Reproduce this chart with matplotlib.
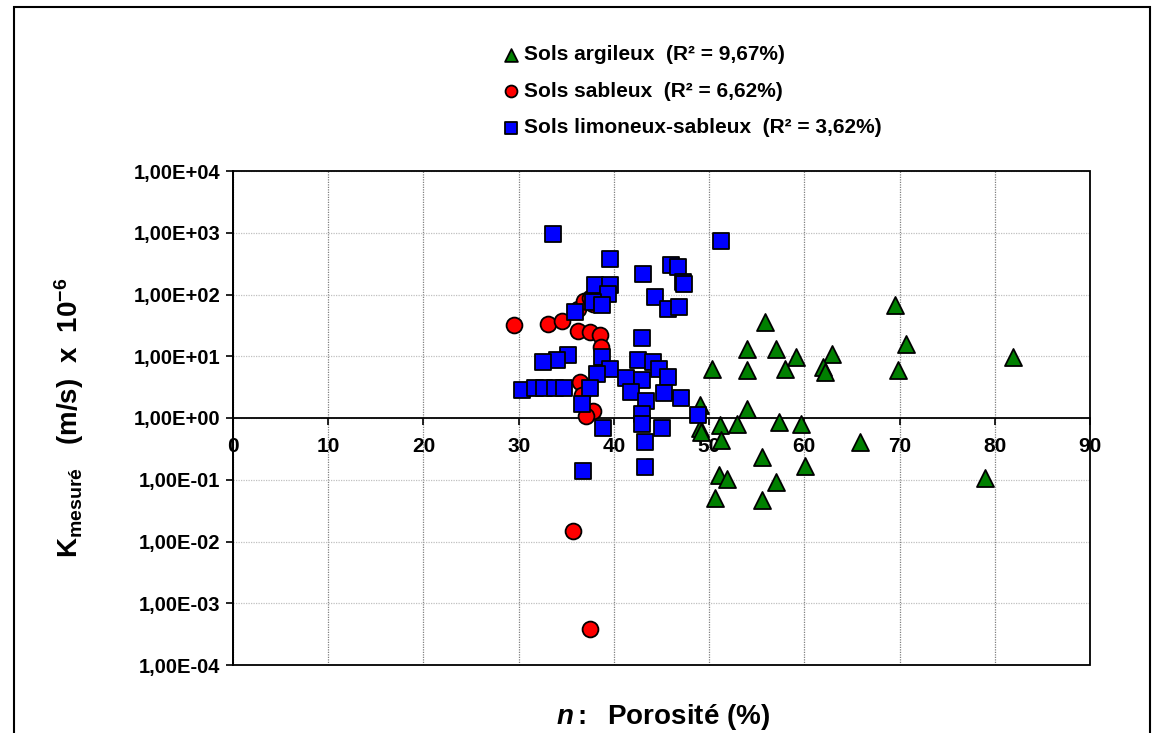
import numpy as np
import matplotlib.pyplot as plt
from matplotlib.ticker import FixedLocator, FuncFormatter
from matplotlib.patches import Rectangle

plt.rcParams["font.family"] = "Liberation Sans"
plt.rcParams["font.weight"] = "bold"
plt.rcParams["axes.labelweight"] = "bold"
plt.rcParams["mathtext.fontset"] = "custom"
plt.rcParams["mathtext.rm"] = "Liberation Sans:bold"
plt.rcParams["mathtext.bf"] = "Liberation Sans:bold"
plt.rcParams["mathtext.it"] = "Liberation Sans:italic:bold"
plt.rcParams["mathtext.default"] = "bf"

# Sols argileux
arg_n = [69.5, 55.9, 70.7, 54.0, 57.0, 59.1, 62.9, 81.9, 50.3, 54.0, 58.0, 62.0,
         62.2, 69.8, 54.0, 49.0, 51.1, 52.9, 57.3, 59.6, 49.0, 49.1, 51.2, 65.8,
         55.6, 60.1, 51.0, 51.9, 57.0, 79.0, 50.6, 55.6]
arg_k = [67, 36, 16, 13.3, 13.3, 9.8, 11, 9.8, 6.3, 5.9, 6.3, 6.7,
         5.6, 5.9, 1.4, 1.6, 0.77, 0.81, 0.87, 0.81, 0.68, 0.6, 0.44, 0.41,
         0.235, 0.17, 0.118, 0.102, 0.093, 0.107, 0.050, 0.047]

# Sols sableux
sab_n = [29.5, 33.1, 34.5, 36.2, 37.5, 38.5, 38.6, 36.4, 36.7, 37.8, 37.1,
         36.2, 36.9, 37.5, 37.8, 35.7, 37.5]
sab_k = [31.7, 33, 37, 26, 24.5, 22, 14, 3.9, 2.4, 1.3, 1.07,
         58, 78, 88, 70, 0.015, 0.00038]

# Sols limoneux-sableux
lim_n = [33.6, 39.6, 43.1, 46.0, 46.7, 47.3, 47.4, 38.0, 39.6, 39.4, 44.3, 37.8,
         38.7, 45.7, 46.8, 35.9, 43.0, 35.2, 34.0, 32.6, 38.7, 42.5, 44.1, 39.6,
         44.7, 38.2, 45.7, 41.3, 43.0, 37.5, 30.3, 31.7, 32.7, 33.8, 34.8, 41.8,
         45.3, 47.1, 43.4, 36.6, 43.0, 48.8, 43.0, 38.9, 45.0, 43.3, 43.3, 36.8,
         51.3]
lim_k = [970, 380, 218, 297, 280, 160, 150, 141, 141, 103, 91, 76,
         67, 59, 63, 52, 19.4, 10.4, 8.6, 8.1, 9.8, 8.6, 8.1, 6.3,
         6.3, 5.2, 4.6, 4.4, 4.1, 3.1, 2.8, 3.1, 3.1, 3.1, 3.1, 2.65,
         2.5, 2.1, 1.9, 1.7, 1.18, 1.1, 0.81, 0.69, 0.69, 0.41, 0.16, 0.14,
         745]

labels = ["Sols argileux  (R² = 9,67%)",
          "Sols sableux  (R² = 6,62%)",
          "Sols limoneux-sableux  (R² = 3,62%)"]

fig = plt.figure(figsize=(11.64, 7.33), dpi=100)
ax = fig.add_axes([233 / 1164, 68 / 733, 857 / 1164, 494 / 733])

h1 = ax.scatter(arg_n, arg_k, marker="^", s=150, c="#008000", edgecolors="black",
                linewidths=1.3, zorder=3, label=labels[0])
h2 = ax.scatter(sab_n, sab_k, marker="o", s=130, c="#ff0000", edgecolors="black",
                linewidths=1.3, zorder=4, label=labels[1])
h3 = ax.scatter(lim_n, lim_k, marker="s", s=140, c="#0000ff", edgecolors="black",
                linewidths=1.3, zorder=5, label=labels[2])

ax.set_yscale("log")
ax.set_ylim(1e-4, 1e4)
ax.set_xlim(0, 90)

yt = [10.0 ** p for p in range(-4, 5)]
ax.yaxis.set_major_locator(FixedLocator(yt))
ax.yaxis.set_minor_locator(FixedLocator([]))
ax.yaxis.set_major_formatter(FuncFormatter(lambda v, p: f"{v:.2E}".replace(".", ",")))
ax.tick_params(axis="y", labelsize=14.5, length=5, width=1.2, direction="out", pad=4)

# x axis crossing at K = 1
ax.spines["bottom"].set_position(("data", 1))
ax.spines["top"].set_visible(False)
ax.spines["right"].set_visible(False)
ax.spines["bottom"].set_linewidth(1.3)
ax.spines["left"].set_linewidth(1.3)
ax.set_xticks(range(0, 91, 10))
ax.tick_params(axis="x", labelsize=15, length=5, width=1.2, direction="out", pad=9)
ax.add_patch(Rectangle((0, 0), 1, 1, transform=ax.transAxes, fill=False,
                       edgecolor="black", linewidth=1.3, zorder=6, clip_on=False))

ax.grid(axis="x", color="#808080", linestyle=(0, (1, 1)), linewidth=0.9)
ax.grid(axis="y", color="#c0c0c0", linestyle=(0, (1, 1)), linewidth=0.9)
ax.set_axisbelow(True)

ax.set_ylabel(r"K$_{mesuré}$   (m/s)  x  10$^{-6}$", fontsize=20)
ax.yaxis.set_label_coords(-0.172, 0.5)
fig.text(663 / 1164, 1 - 717 / 733, r"$\mathit{n:}$  Porosité (%)", fontsize=20,
         ha="center", va="center")

fig.legend(handles=[h1, h2, h3], loc="upper left",
           bbox_to_anchor=(503 / 1164, 1 - 45 / 733), frameon=False,
           fontsize=15, markerscale=0.75, handlelength=0.8, handletextpad=0.2,
           labelspacing=0.85, borderaxespad=0, borderpad=0)

fig.add_artist(Rectangle((14 / 1164, -0.01), (1150 - 14) / 1164, 1 - 7 / 733 + 0.01,
                         transform=fig.transFigure, fill=False, edgecolor="black",
                         linewidth=1.5))

fig.savefig("out.png", dpi=100)
